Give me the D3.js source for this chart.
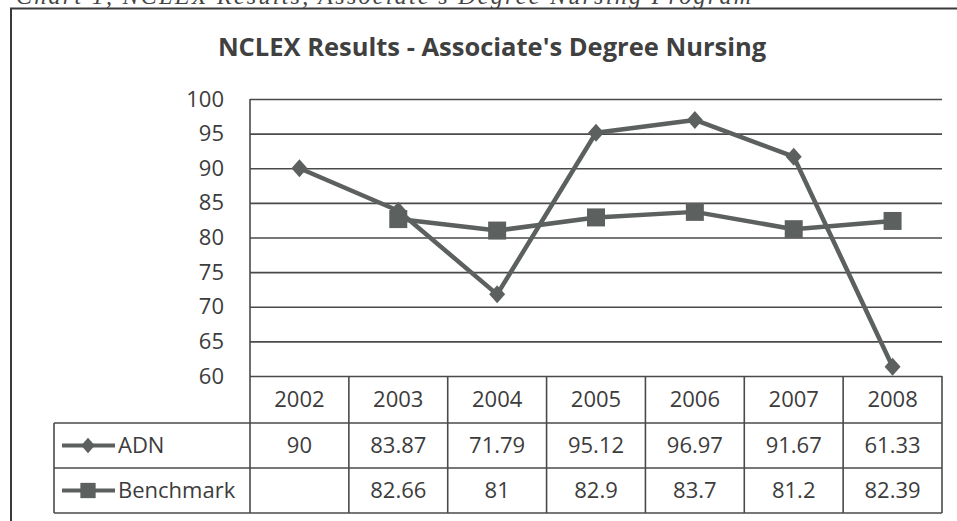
<!DOCTYPE html>
<html>
<head>
<meta charset="utf-8">
<script src="https://cdn.jsdelivr.net/npm/d3@7"></script>
<style>
	html, body { margin: 0; padding: 0; background: #fff; }
	svg { display: block; font-family: 'Open Sans', sans-serif; }
</style>
</head>
<body>
<div id="chart"></div>
<script>
'use strict';

var years = ['2002', '2003', '2004', '2005', '2006', '2007', '2008'];
var adn = [90, 83.87, 71.79, 95.12, 96.97, 91.67, 61.33];
var adnLabels = ['90', '83.87', '71.79', '95.12', '96.97', '91.67', '61.33'];
var benchmark = [null, 82.66, 81, 82.9, 83.7, 81.2, 82.39];
var benchmarkLabels = ['', '82.66', '81', '82.9', '83.7', '81.2', '82.39'];
var yTicks = [60, 65, 70, 75, 80, 85, 90, 95, 100];

var width = 957;
var height = 521;
var ink = '#3c3c3c';
var grid = '#4a4a4a';
var lineCol = '#5c605f';

var plot = {left: 250, right: 942, top: 99, bottom: 376};
var rows = {head: 423, adn: 468, bench: 513};
var legendLeft = 54;

var svg = d3.select('#chart').append('svg')
	.attr('width', width)
	.attr('height', height);

// caption above the frame, cut off by the top of the scan
svg.append('text')
	.attr('x', 16)
	.attr('y', 4)
	.attr('font-family', 'Liberation Serif, serif')
	.attr('font-style', 'italic')
	.attr('font-size', 24)
	.attr('fill', '#444')
	.attr('textLength', 735)
	.text("Chart 1, NCLEX Results, Associate's Degree Nursing Program");

// outer chart frame
svg.append('rect')
	.attr('x', 11)
	.attr('y', 8.5)
	.attr('width', width + 20)
	.attr('height', height + 20)
	.attr('fill', 'none')
	.attr('stroke', '#3a3a3a')
	.attr('stroke-width', 2);

svg.append('text')
	.attr('x', 492)
	.attr('y', 56)
	.attr('text-anchor', 'middle')
	.attr('font-weight', 'bold')
	.attr('font-size', 25.5)
	.attr('fill', '#404040')
	.text("NCLEX Results - Associate's Degree Nursing");

var x = d3.scaleBand()
	.domain(years)
	.range([plot.left, plot.right]);

var y = d3.scaleLinear()
	.domain([60, 100])
	.range([plot.bottom, plot.top]);

var yAxis = svg.append('g')
	.attr('transform', 'translate(' + plot.left + ',0)')
	.call(d3.axisLeft(y)
		.tickValues(yTicks)
		.tickSize(-(plot.right - plot.left))
		.tickPadding(26));

yAxis.select('.domain').remove();
yAxis.selectAll('.tick line')
	.attr('stroke', grid)
	.attr('stroke-width', 1.6);
yAxis.selectAll('.tick text')
	.attr('font-family', 'Open Sans, sans-serif')
	.attr('font-size', 22)
	.attr('fill', ink);

// data table lines
var tbl = svg.append('g')
	.attr('stroke', grid)
	.attr('stroke-width', 1.6);

tbl.append('line')
	.attr('x1', plot.left).attr('x2', plot.left)
	.attr('y1', plot.top).attr('y2', rows.bench);

[rows.head, rows.adn, rows.bench].forEach(function(r){
	tbl.append('line')
		.attr('x1', legendLeft).attr('x2', plot.right)
		.attr('y1', r).attr('y2', r);
});

tbl.append('line')
	.attr('x1', legendLeft).attr('x2', legendLeft)
	.attr('y1', rows.head).attr('y2', rows.bench);

tbl.selectAll('.col')
	.data(years.slice(1).concat(['end']))
	.enter().append('line')
		.attr('x1', function(d){ return d === 'end' ? plot.right : x(d); })
		.attr('x2', function(d){ return d === 'end' ? plot.right : x(d); })
		.attr('y1', plot.bottom)
		.attr('y2', rows.bench);

var cx = function(d){ return x(d) + x.bandwidth() / 2; };

function rowText(labels, yMid){
	svg.append('g').selectAll('text')
		.data(years)
		.enter().append('text')
			.attr('x', cx)
			.attr('y', yMid)
			.attr('dy', '0.35em')
			.attr('text-anchor', 'middle')
			.attr('font-size', 22)
			.attr('fill', ink)
			.text(function(d, i){ return labels[i]; });
}

rowText(years, (plot.bottom + rows.head) / 2);
rowText(adnLabels, (rows.head + rows.adn) / 2);
rowText(benchmarkLabels, (rows.adn + rows.bench) / 2);

// series
var diamond = 'M0,-9L8,0L0,9L-8,0Z';
var square = 'M-9,-9H9V9H-9Z';

function series(values, shape){
	var pts = years.map(function(d, i){ return {year: d, v: values[i]}; })
		.filter(function(p){ return p.v !== null; });

	svg.append('path')
		.datum(pts)
		.attr('fill', 'none')
		.attr('stroke', lineCol)
		.attr('stroke-width', 4.5)
		.attr('stroke-linejoin', 'round')
		.attr('d', d3.line()
			.x(function(p){ return cx(p.year); })
			.y(function(p){ return y(p.v); }));

	svg.append('g').selectAll('path')
		.data(pts)
		.enter().append('path')
			.attr('d', shape)
			.attr('fill', lineCol)
			.attr('transform', function(p){
				return 'translate(' + cx(p.year) + ',' + y(p.v) + ')';
			});
}

series(benchmark, square);
series(adn, diamond);

// legend keys in the table
function legendKey(yMid, shape, label){
	svg.append('line')
		.attr('x1', 62).attr('x2', 115)
		.attr('y1', yMid).attr('y2', yMid)
		.attr('stroke', lineCol)
		.attr('stroke-width', 4);
	svg.append('path')
		.attr('d', shape)
		.attr('fill', lineCol)
		.attr('transform', 'translate(88,' + yMid + ') scale(0.85)');
	svg.append('text')
		.attr('x', 118)
		.attr('y', yMid)
		.attr('dy', '0.35em')
		.attr('font-size', 22)
		.attr('fill', ink)
		.text(label);
}

legendKey((rows.head + rows.adn) / 2, diamond, 'ADN');
legendKey((rows.adn + rows.bench) / 2, square, 'Benchmark');
</script>
</body>
</html>
